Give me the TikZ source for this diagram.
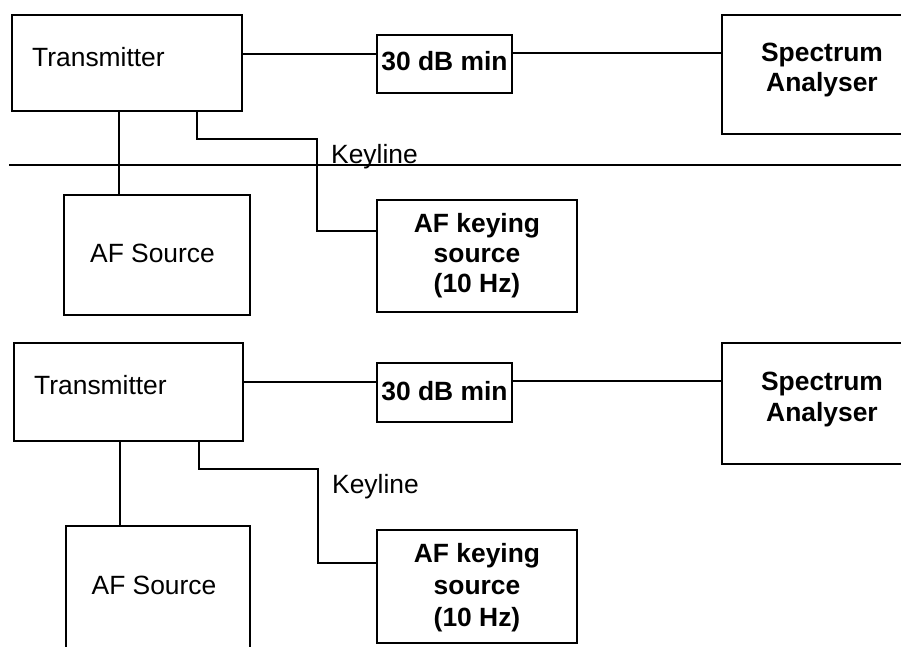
\documentclass[tikz,border=0pt]{standalone}
\usepackage{fontspec}
\setmainfont{Liberation Sans}
\usetikzlibrary{calc}
\begin{document}
\begin{tikzpicture}[x=1pt,y=-1pt,
  box/.style={draw, line width=1.6pt, inner sep=0pt},
  wire/.style={line width=1.5pt},
  lbl/.style={inner sep=0pt, align=center, font=\fontsize{26.4}{30}\selectfont},
  blbl/.style={lbl, font=\fontsize{26.4}{30}\selectfont\bfseries}]
\useasboundingbox (0,0) rectangle (901,646);
% ---------- upper diagram ----------
\node[box, minimum width=230pt, minimum height=96pt] (tx) at (127,63) {};
\node[lbl, anchor=west] (txl) at (32,57) {Transmitter};
\node[box, minimum width=135pt, minimum height=58pt] (att) at (444.5,64) {};
\node[blbl] (attl) at (444.5,61) {30 dB min};
\node[box, minimum width=200pt, minimum height=119pt] (spa) at (822,74.5) {};
\node[blbl] (spal) at (822,70.5) {Spectrum\\Analyser};
\node[box, minimum width=186pt, minimum height=120pt] (afs) at (157,255) {};
\node[lbl] (afsl) at (152.5,253) {AF Source};
\node[box, minimum width=200pt, minimum height=112pt] (afk) at (477,256) {};
\node[blbl] (afkl) at (477,255.5) {AF keying\\source\\(10 Hz)};
\node[lbl, anchor=west] (keyl) at (331,157) {Keyline};
\coordinate (hl1) at (9,165);
\coordinate (hl2) at (920,165);
\draw[wire] (hl1) -- (hl2);
\draw[wire] ($(tx.north east)+(0,40)$) coordinate (p1) -- (p1 -| att.west);
\draw[wire] ($(att.north east)+(0,19)$) coordinate (q1) -- (q1 -| spa.west);
\draw[wire] ($(tx.south west)+(108,0)$) coordinate (r1) -- (r1 |- afs.north);
\draw[wire] ($(tx.south west)+(186,0)$) coordinate (k1) -- ++(0,27)
  -| ($(afk.west)+(-59,-25)$) -- ($(afk.west)+(0,-25)$);
% ---------- lower diagram ----------
\node[box, minimum width=229pt, minimum height=98pt] (tx2) at (128.5,392) {};
\node[lbl, anchor=west] (txl2) at (34,385) {Transmitter};
\node[box, minimum width=135pt, minimum height=59pt] (att2) at (444.5,392.5) {};
\node[blbl] (attl2) at (444.5,391) {30 dB min};
\node[box, minimum width=200pt, minimum height=121pt] (spa2) at (822,403.5) {};
\node[blbl, font=\fontsize{26.4}{31}\selectfont\bfseries] (spal2) at (822,400) {Spectrum\\Analyser};
\node[box, minimum width=184pt, minimum height=134pt] (afs2) at (158,593) {};
\node[lbl] (afsl2) at (154,585) {AF Source};
\node[box, minimum width=200pt, minimum height=113pt] (afk2) at (477,586.5) {};
\node[blbl, font=\fontsize{26.4}{32}\selectfont\bfseries] (afkl2) at (477,587.5) {AF keying\\source\\(10 Hz)};
\node[lbl, anchor=west] (keyl2) at (332,487) {Keyline};
\draw[wire] ($(tx2.north east)+(0,40)$) coordinate (p2) -- (p2 -| att2.west);
\draw[wire] ($(att2.north east)+(0,19)$) coordinate (q2) -- (q2 -| spa2.west);
\draw[wire] ($(tx2.south west)+(107,0)$) coordinate (r2) -- (r2 |- afs2.north);
\draw[wire] ($(tx2.south west)+(186,0)$) coordinate (k2) -- ++(0,27)
  -| ($(afk2.west)+(-58,-23.5)$) -- ($(afk2.west)+(0,-23.5)$);
\end{tikzpicture}
\end{document}
